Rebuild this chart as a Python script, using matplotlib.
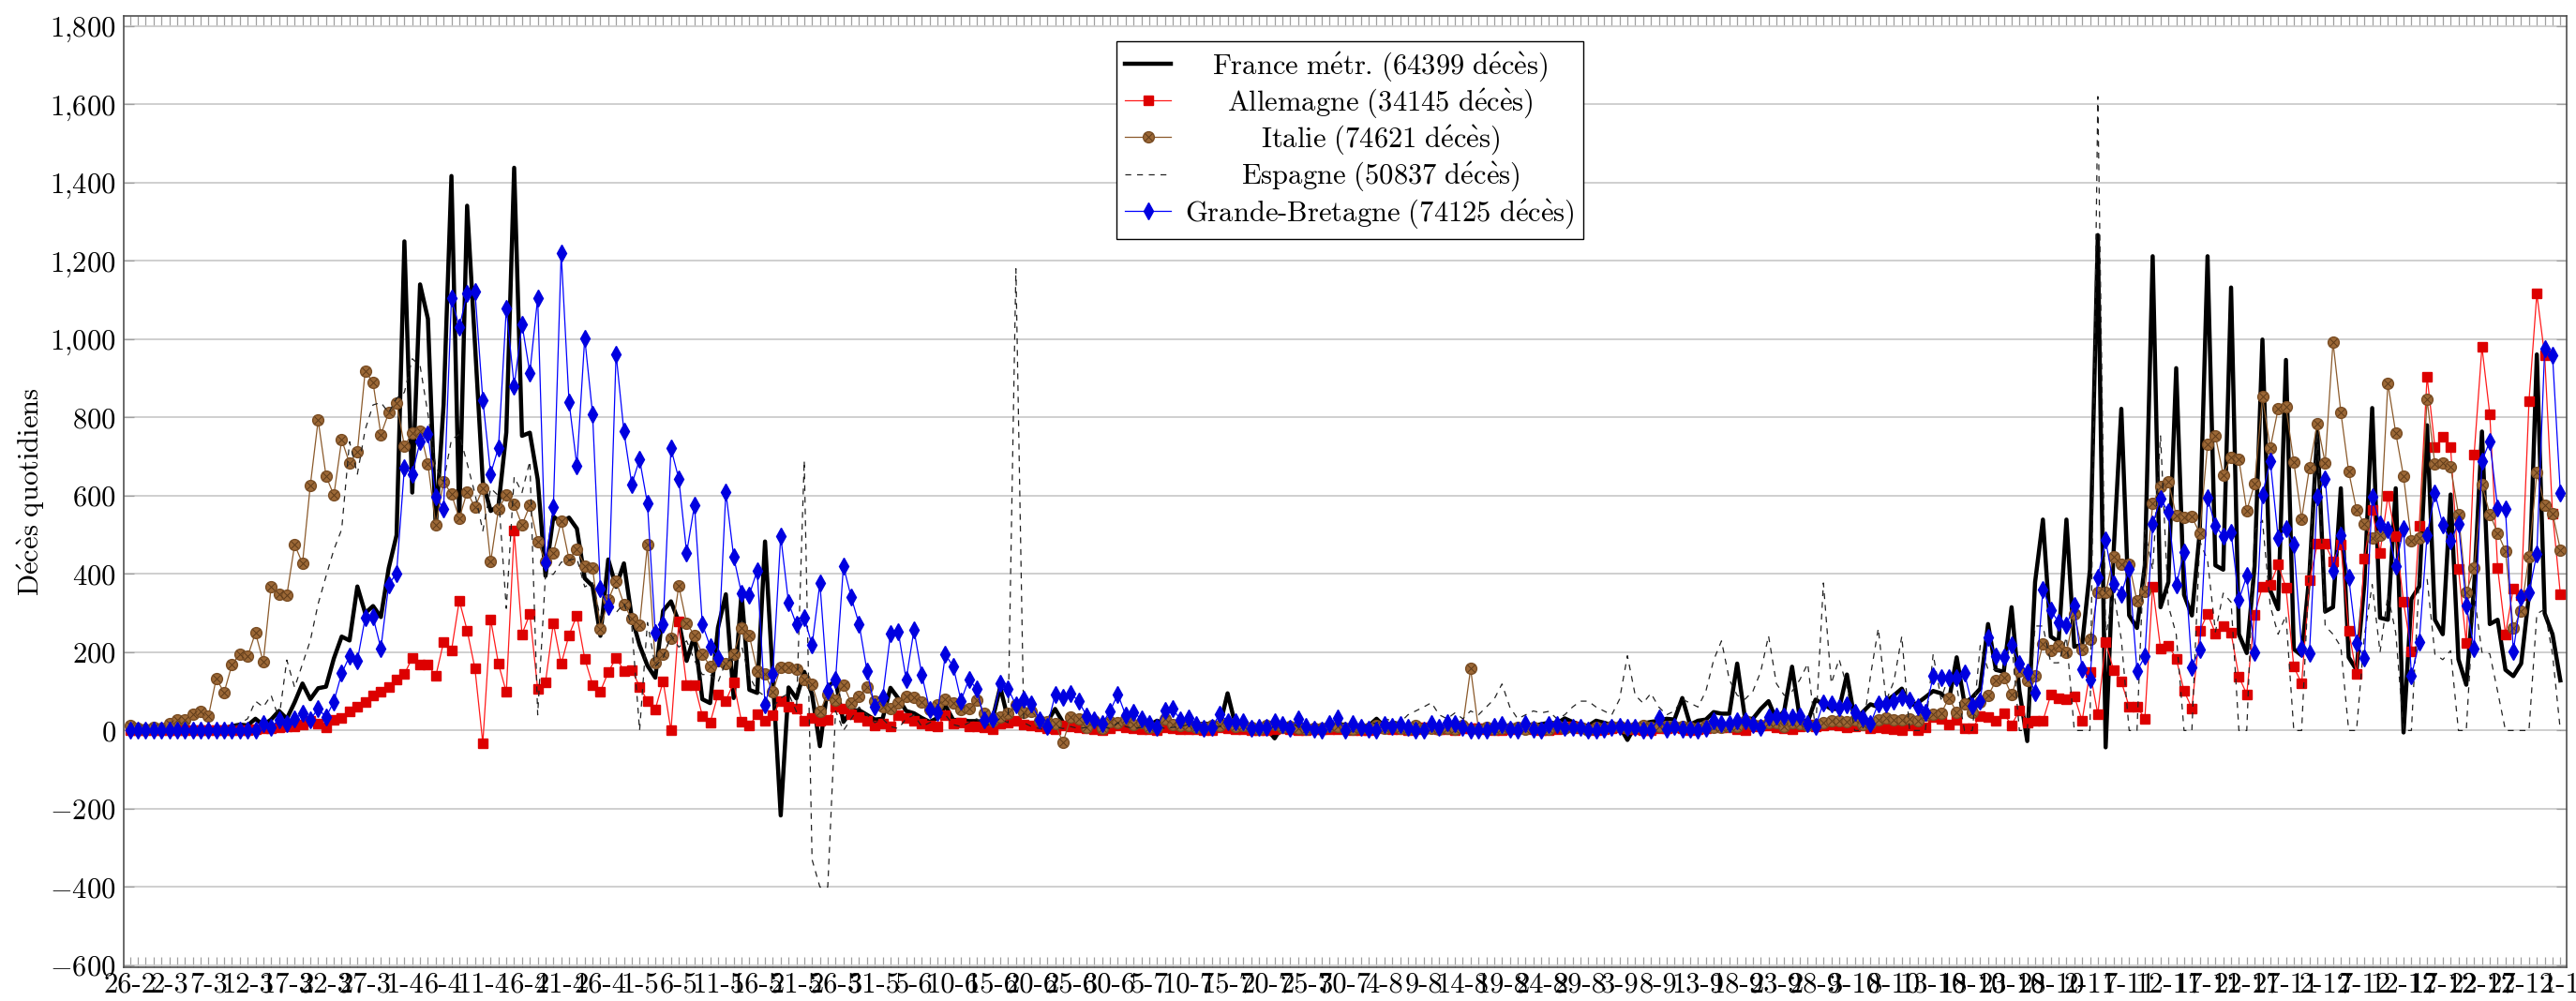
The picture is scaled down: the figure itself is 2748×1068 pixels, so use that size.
import matplotlib
matplotlib.use('Agg')
import matplotlib.pyplot as plt
import numpy as np
from matplotlib.legend_handler import HandlerTuple
from matplotlib.ticker import FuncFormatter

plt.rcParams['font.family'] = 'cmr10'
plt.rcParams['mathtext.fontset'] = 'cm'
plt.rcParams['axes.unicode_minus'] = False
plt.rcParams['axes.formatter.use_mathtext'] = True

# ---------------- data (daily deaths, 26-2-2020 .. 1-1-2021) ----------------
tick_labels = ["26-2", "2-3", "7-3", "12-3", "17-3", "22-3", "27-3", "1-4", "6-4", "11-4",
               "16-4", "21-4", "26-4", "1-5", "6-5", "11-5", "16-5", "21-5", "26-5", "31-5",
               "5-6", "10-6", "15-6", "20-6", "25-6", "30-6", "5-7", "10-7", "15-7", "20-7",
               "25-7", "30-7", "4-8", "9-8", "14-8", "19-8", "24-8", "29-8", "3-9", "8-9",
               "13-9", "18-9", "23-9", "28-9", "3-10", "8-10", "13-10", "18-10", "23-10", "28-10",
               "2-11", "7-11", "12-11", "17-11", "22-11", "27-11", "2-12", "7-12", "12-12", "17-12",
               "22-12", "27-12", "1-1"]

france = [
    0, 0, 0, 0, 0, 2, 0, 1, 3, 2,
    2, 3, 6, 11, 15, 13, 30, 14, 28, 50,
    30, 72, 120, 80, 108, 112, 184, 240, 230, 368,
    300, 318, 290, 415, 499, 1250, 608, 1140, 1052, 518,
    833, 1417, 541, 1341, 987, 635, 561, 574, 762, 1438,
    753, 761, 642, 395, 547, 531, 544, 516, 389, 369,
    242, 437, 367, 427, 289, 218, 166, 135, 306, 330,
    278, 178, 243, 80, 70, 263, 348, 83, 351, 104,
    96, 483, 131, -217, 110, 82, 150, 92, -40, 112,
    127, 22, 50, 52, 40, 28, 30, 109, 82, 50,
    44, 32, 22, 32, 64, 27, 27, 24, 24, 22,
    27, 111, 28, 23, 14, 10, 8, 22, 55, 21,
    10, 18, 15, 20, 8, 24, 14, 17, 12, 10,
    13, 25, 18, 11, 10, 8, 14, 18, 16, 12,
    95, 14, 16, 10, 8, 5, -20, 12, 14, 12,
    10, 8, 12, 10, 11, 14, 9, 8, 12, 30,
    10, 11, 9, 12, 14, 8, 10, 5, 12, 15,
    9, 10, 12, 8, 6, 15, 10, 9, 18, 12,
    16, 20, 18, 31, 22, 15, 12, 25, 20, 14,
    10, -24, 12, 18, 22, 25, 30, 28, 83, 15,
    25, 28, 47, 43, 43, 171, 31, 30, 55, 75,
    27, 50, 163, 30, 22, 79, 67, 55, 55, 143,
    27, 47, 67, 60, 75, 90, 107, 64, 70, 85,
    101, 95, 75, 187, 69, 85, 107, 272, 155, 150,
    315, 101, -27, 379, 539, 240, 227, 539, 214, 219,
    411, 1266, -43, 450, 822, 294, 262, 422, 1212, 315,
    379, 926, 347, 294, 507, 1212, 422, 411, 1132, 246,
    198, 420, 999, 358, 310, 947, 208, 192, 400, 764,
    304, 315, 619, 187, 155, 374, 824, 288, 283, 619,
    -5, 336, 368, 780, 283, 246, 603, 182, 117, 368,
    764, 272, 283, 155, 139, 171, 347, 961, 299, 246,
    128]

germany = [
    0, 0, 0, 0, 0, 0, 0, 0, 0, 0,
    0, 0, 2, 0, 1, 2, 3, 6, 6, 8,
    10, 10, 16, 24, 18, 8, 28, 32, 48, 60,
    74, 90, 98, 110, 130, 144, 186, 168, 168, 139,
    226, 204, 332, 256, 158, -32, 284, 170, 98, 510,
    246, 298, 106, 124, 274, 170, 244, 294, 184, 117,
    100, 149, 186, 153, 155, 112, 76, 54, 126, 0,
    279, 115, 117, 38, 20, 92, 76, 122, 23, 13,
    41, 24, 40, 76, 62, 57, 25, 32, 24, 27,
    60, 56, 42, 34, 25, 12, 17, 10, 39, 32,
    24, 17, 12, 10, 40, 17, 20, 10, 10, 7,
    4, 17, 20, 25, 15, 12, 10, 6, 3, 12,
    10, 8, 6, 4, 2, 5, 12, 8, 6, 4,
    3, 2, 7, 5, 4, 3, 3, 1, 1, 8,
    5, 4, 4, 2, 1, 1, 3, 5, 4, 2,
    1, 3, 4, 3, 4, 6, 2, 1, 1, 8,
    5, 4, 3, 2, 3, 7, 6, 4, 3, 2,
    5, 6, 5, 4, 1, 1, 3, 6, 5, 4,
    2, 1, 4, 8, 10, 5, 3, 1, 4, 6,
    9, 6, 4, 1, 1, 6, 5, 7, 5, 2,
    3, 6, 10, 8, 7, 4, 2, 10, 12, 13,
    9, 5, 4, 11, 16, 10, 12, 15, 13, 8,
    10, 12, 5, 7, 5, 3, 0, 14, 0, 9,
    35, 29, 16, 27, 5, 5, 37, 35, 25, 43,
    14, 51, 21, 25, 25, 91, 82, 80, 88, 25,
    150, 42, 226, 155, 125, 61, 61, 30, 368, 210,
    217, 184, 101, 57, 254, 299, 248, 267, 249, 137,
    93, 296, 368, 373, 424, 365, 163, 120, 383, 477,
    477, 433, 475, 255, 144, 440, 564, 454, 599, 497,
    328, 201, 523, 905, 724, 750, 724, 413, 224, 705,
    980, 808, 416, 246, 363, 347, 842, 1116, 958, 555,
    349]

italy = [
    12, 5, 4, 8, 5, 18, 27, 28, 41, 49,
    36, 133, 97, 168, 196, 189, 250, 175, 368, 349,
    345, 475, 427, 627, 793, 651, 601, 743, 683, 712,
    919, 889, 756, 812, 837, 727, 760, 766, 681, 525,
    636, 604, 542, 610, 570, 619, 431, 566, 602, 578,
    525, 575, 482, 433, 454, 534, 437, 464, 420, 415,
    260, 333, 382, 323, 285, 269, 474, 174, 195, 236,
    369, 274, 243, 194, 165, 179, 172, 195, 262, 242,
    153, 145, 99, 162, 161, 156, 130, 119, 50, 92,
    78, 117, 70, 87, 111, 75, 60, 55, 71, 88,
    85, 72, 53, 65, 79, 71, 53, 56, 78, 44,
    26, 34, 43, 66, 47, 49, 24, 23, 18, -31,
    34, 30, 8, 24, 6, 23, 21, 30, 15, 21,
    7, 8, 30, 15, 12, 12, 7, 7, 13, 13,
    20, 11, 13, 9, 3, 13, 15, 9, 11, 5,
    4, 5, 5, 11, 11, 6, 3, 5, 5, 13,
    5, 10, 6, 3, 12, 4, 6, 4, 6, 3,
    12, 158, 4, 7, 4, 6, 6, 9, 3, 7,
    4, 4, 13, 5, 9, 9, 1, 7, 6, 10,
    10, 6, 7, 12, 8, 10, 10, 10, 10, 7,
    6, 14, 9, 9, 10, 10, 24, 15, 14, 20,
    20, 10, 20, 17, 14, 15, 19, 24, 24, 23,
    27, 16, 18, 28, 31, 28, 28, 29, 26, 39,
    41, 43, 83, 47, 69, 47, 73, 89, 127, 136,
    91, 151, 128, 141, 221, 205, 217, 199, 297, 208,
    233, 353, 352, 445, 426, 425, 331, 356, 580, 623,
    636, 550, 544, 546, 504, 731, 753, 653, 699, 692,
    562, 630, 853, 722, 822, 827, 686, 541, 672, 785,
    684, 993, 814, 662, 564, 528, 491, 499, 887, 761,
    649, 484, 491, 846, 680, 683, 674, 553, 352, 415,
    628, 553, 505, 459, 261, 305, 445, 659, 575, 555,
    462]

spain = [
    0, 0, 0, 0, 0, 0, 1, 0, 2, 3,
    5, 7, 10, 7, 18, 30, 75, 60, 90, 30,
    180, 110, 170, 230, 324, 394, 462, 514, 738, 655,
    769, 832, 838, 812, 849, 864, 950, 932, 809, 674,
    637, 743, 757, 683, 605, 510, 619, 600, 312, 648,
    608, 688, 40, 400, 399, 430, 435, 440, 367, 378,
    288, 331, 301, 325, 268, 0, 276, 164, 185, 244,
    213, 229, 179, 143, 143, 123, 176, 184, 217, 138,
    102, 87, 59, 83, 95, 48, 690, -330, -400, -400,
    50, 0, 30, 60, 40, 20, 30, 10, 5, 30,
    40, 10, 20, 30, 40, 15, 10, 20, 30, 10,
    20, 30, 20, 1180, 20, 10, 5, 0, 10, 5,
    10, 5, 8, 15, 10, 5, 20, 10, 5, 8,
    10, 12, 5, 8, 10, 15, 5, 8, 12, 10,
    15, 20, 10, 5, 12, 8, 10, 15, 20, 10,
    5, 8, 10, 12, 15, 20, 25, 10, 15, 20,
    30, 25, 20, 40, 50, 60, 71, 40, 30, 45,
    30, 50, 40, 60, 80, 119, 60, 30, 40, 50,
    45, 49, 30, 40, 60, 75, 75, 60, 50, 40,
    80, 191, 90, 70, 95, 60, 40, 50, 80, 70,
    60, 100, 180, 229, 130, 90, 80, 100, 150, 242,
    120, 90, 100, 130, 171, 0, 377, 120, 182, 113,
    0, 0, 139, 261, 76, 126, 241, 0, 0, 0,
    195, 80, 140, 113, 0, 0, 217, 156, 156, 155,
    231, 0, 0, 267, 267, 173, 173, 239, 0, 0,
    0, 1620, 238, 356, 233, 0, 0, 512, 411, 753,
    319, 246, 0, 0, 484, 435, 252, 351, 328, 0,
    0, 512, 537, 318, 246, 294, 0, 0, 429, 764,
    267, 246, 214, 0, 0, 241, 373, 200, 347, 250,
    0, 0, 389, 388, 195, 181, 204, 0, 0, 348,
    200, 196, 100, 0, 0, 0, 0, 298, 310, 195,
    0]

uk = [
    0, 0, 0, 0, 0, 0, 0, 0, 1, 0,
    1, 1, 2, 0, 2, 1, 2, 18, 8, 28,
    18, 30, 44, 28, 56, 34, 74, 146, 190, 179,
    288, 290, 210, 373, 402, 672, 656, 738, 758, 598,
    566, 1106, 1030, 1118, 1123, 845, 656, 723, 1078, 880,
    1038, 914, 1106, 430, 570, 1220, 840, 676, 1003, 809,
    362, 317, 962, 764, 629, 693, 580, 251, 271, 721,
    643, 454, 576, 272, 215, 185, 610, 444, 350, 347,
    409, 65, 145, 497, 326, 271, 288, 218, 377, 102,
    131, 420, 340, 272, 153, 60, 85, 247, 252, 130,
    257, 142, 54, 46, 194, 164, 76, 131, 106, 27,
    29, 120, 107, 65, 80, 69, 28, 11, 91, 84,
    95, 75, 38, 27, 18, 49, 93, 39, 46, 30,
    17, 9, 52, 55, 28, 31, 15, 6, 7, 42,
    23, 22, 23, 6, 7, 7, 22, 15, 6, 30,
    11, 3, 1, 18, 31, 0, 18, 9, 3, 0,
    15, 11, 15, 9, 1, 1, 17, 9, 19, 18,
    7, 0, 1, 1, 11, 15, 3, 0, 17, 3,
    1, 15, 15, 9, 9, 9, 0, 1, 3, 7,
    11, 7, 9, 0, 0, 31, 3, 11, 3, 3,
    2, 6, 25, 18, 18, 25, 25, 15, 7, 35,
    37, 37, 34, 37, 17, 11, 71, 69, 59, 65,
    47, 31, 17, 69, 67, 75, 85, 78, 61, 46,
    139, 134, 134, 134, 146, 64, 75, 238, 189, 187,
    219, 171, 150, 96, 361, 308, 276, 270, 320, 157,
    131, 392, 486, 374, 349, 413, 152, 189, 527, 593,
    558, 371, 457, 162, 208, 595, 523, 497, 507, 334,
    395, 200, 603, 689, 493, 515, 475, 210, 198, 598,
    644, 408, 499, 392, 224, 185, 598, 529, 513, 420,
    516, 139, 226, 499, 607, 525, 484, 529, 320, 210,
    689, 739, 569, 565, 203, 342, 352, 452, 975, 959,
    607]

labels = [r'$\mathrm{France\ m\acute{e}tr}$.$\mathrm{\ (64399\ d\acute{e}c\grave{e}s)}$',
          r'$\mathrm{Allemagne\ (34145\ d\acute{e}c\grave{e}s)}$',
          r'$\mathrm{Italie\ (74621\ d\acute{e}c\grave{e}s)}$',
          r'$\mathrm{Espagne\ (50837\ d\acute{e}c\grave{e}s)}$',
          r'$\mathrm{Grande}$-$\mathrm{Bretagne\ (74125\ d\acute{e}c\grave{e}s)}$']
ylabel = r'$\mathrm{D\acute{e}c\grave{e}s\ quotidiens}$'

# ---------------- figure ----------------
W, H = 2748, 1068
fig = plt.figure(figsize=(W / 100, H / 100), dpi=100)
ax = fig.add_axes([132 / W, 1 - 1032 / H, (2738 - 132) / W, (1032 - 17) / H])

x = np.arange(len(france))
FS = 22

l_fr, = ax.plot(x, france, color='black', lw=3.2, zorder=3)
l_de, = ax.plot(x, germany, color='#ff1a1a', lw=0.9, marker='s', ms=7, mfc='#dd0000', mec='#dd0000', zorder=4)
l_it, = ax.plot(x, italy, color='#8b5a2b', lw=0.9, marker='o', ms=8.5, mfc='#9c6836', mec='#7a4d24', zorder=5)
l_itx, = ax.plot(x, italy, ls='none', marker='x', ms=5.5, mec='#5e3b1a', mew=0.7, zorder=5)
l_es, = ax.plot(x, spain, color='#222222', lw=0.9, dashes=(5, 5), zorder=6)
l_uk, = ax.plot(x, uk, color='#0000ff', lw=0.9, marker='d', ms=9, mfc='#0000e0', mec='#0000e0', zorder=7)

ax.set_xlim(-0.8, 310.8)
ax.set_ylim(-605, 1826)
ax.set_yticks(np.arange(-600, 1801, 200))


def yfmt(v, pos):
    s = f"{abs(int(round(v))):,}".replace(',', '{,}')
    return f"$-{s}$" if v < 0 else f"${s}$"


ax.yaxis.set_major_formatter(FuncFormatter(yfmt))
ax.set_xticks(np.arange(0, len(france), 5))
ax.set_xticklabels(tick_labels)
ax.set_xticks(np.arange(len(france)), minor=True)

ax.tick_params(axis='both', which='both', direction='in', color='#a0a0a0', width=0.9, length=8,
               top=True, right=True, labelsize=FS)
ax.tick_params(axis='x', which='major', pad=4)
ax.tick_params(axis='y', which='major', pad=6)

ax.yaxis.grid(True, color='#cccccc', lw=1.3)
ax.set_axisbelow(True)
for sp in ax.spines.values():
    sp.set_color('#505050')
    sp.set_linewidth(1.2)

ax.set_ylabel(ylabel, fontsize=FS, labelpad=2)

leg = ax.legend([l_fr, l_de, (l_it, l_itx), l_es, l_uk], labels,
                loc='upper center', bbox_to_anchor=(0.502, 0.988), fontsize=FS,
                frameon=True, fancybox=False, edgecolor='black', framealpha=1,
                handlelength=1.6, handletextpad=0.5, labelspacing=0.12, borderpad=0.3,
                handler_map={tuple: HandlerTuple(ndivide=1)})
leg.get_frame().set_linewidth(1.0)
leg.set_zorder(20)

fig.canvas.draw()
widths = [t.get_window_extent().width for t in leg.get_texts()]
wmax = max(widths)
for t, w in zip(leg.get_texts(), widths):
    t.set_x((wmax - w) / 2)

fig.savefig('out.png', dpi=100)
